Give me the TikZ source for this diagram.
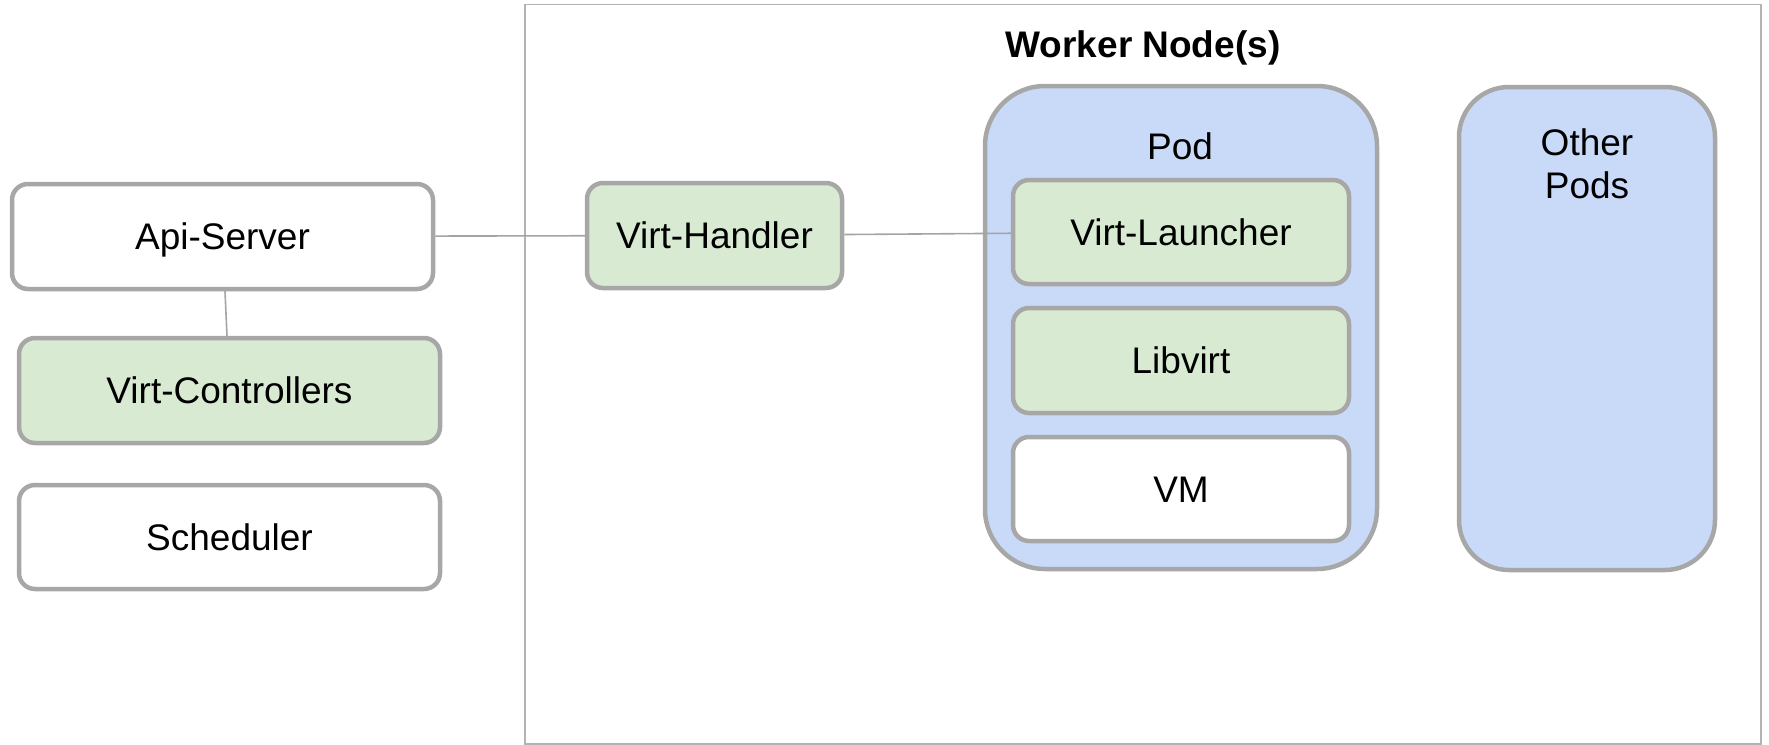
\documentclass[tikz,border=0pt]{standalone}
\usepackage{fontspec}
\setmainfont{Liberation Sans}
\definecolor{edgegray}{HTML}{A7A7A7}
\definecolor{linegray}{HTML}{A4A4A4}
\definecolor{framegray}{HTML}{B3B3B3}
\definecolor{compgreen}{HTML}{D9EAD3}
\definecolor{podblue}{HTML}{C9DAF8}
\begin{document}
\begin{tikzpicture}[x=0.5pt,y=-0.5pt,
  txt/.style={font=\fontsize{18.5pt}{21.5pt}\selectfont, inner sep=0pt},
  box/.style={txt, draw=edgegray, line width=2.25pt, rounded corners=8pt,
    text height=13.25pt, text depth=0pt, fill=white},
  greenbox/.style={box, fill=compgreen},
  podbox/.style={draw=edgegray, line width=2.25pt, fill=podblue, inner sep=0pt},
  wire/.style={draw=linegray, line width=0.8pt}]
\useasboundingbox (0,0) rectangle (1769,745);

% worker node frame
\draw[framegray, line width=0.8pt] (525,4.5) rectangle (1761,744);
\node[txt, font=\fontsize{18.5pt}{21.5pt}\selectfont\bfseries] (worker) at (1143,48) {Worker Node(s)};

% control plane components
\node[box, minimum width=210.5pt, minimum height=52.5pt] (api) at (222.5,236.5) {Api-Server};
\node[greenbox, minimum width=210.5pt, minimum height=52.5pt] (ctrl) at (229.5,390.5) {Virt-Controllers};
\node[box, minimum width=210.5pt, minimum height=52pt] (sched) at (229.5,537) {Scheduler};

% node agent
\node[greenbox, minimum width=127.5pt, minimum height=52.5pt] (handler) at (714.5,235.5) {Virt-Handler};

% pods
\node[podbox, rounded corners=30pt, minimum width=196pt, minimum height=241.5pt] (pod) at (1181,327.5) {};
\node[txt] (podtitle) at (1180,146) {Pod};
\node[podbox, rounded corners=25pt, minimum width=128pt, minimum height=241.5pt] (other) at (1587,328.5) {};
\node[txt, align=center] (othertitle) at (1587,164) {Other\\Pods};

% pod contents
\node[greenbox, minimum width=168pt, minimum height=52pt] (launcher) at (1181,232) {Virt-Launcher};
\node[greenbox, minimum width=168pt, minimum height=52.5pt] (libvirt) at (1181,360.5) {Libvirt};
\node[box, minimum width=168pt, minimum height=52pt] (vm) at (1181,489) {VM};

% connections
\draw[wire] (api) -- (ctrl);
\draw[wire] (api) -- (handler);
\draw[wire] (handler) -- (launcher);
\end{tikzpicture}
\end{document}
